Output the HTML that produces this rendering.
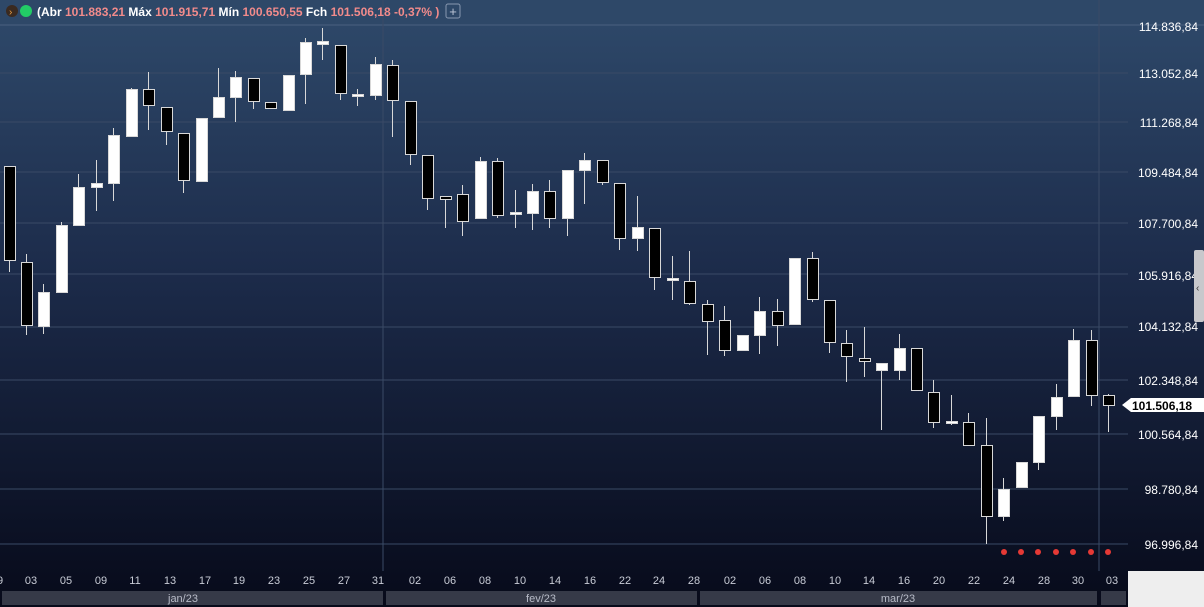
<!DOCTYPE html>
<html><head><meta charset="utf-8"><style>
html,body{margin:0;padding:0;width:1204px;height:607px;overflow:hidden;background:#0a0e20;font-family:"Liberation Sans",sans-serif;}
</style></head><body>
<svg width="1204" height="607" xmlns="http://www.w3.org/2000/svg" style="position:absolute;left:0;top:0">
<defs><linearGradient id="bg" x1="0" y1="0" x2="0" y2="1">
<stop offset="0" stop-color="#2f4a6b"/><stop offset="0.45" stop-color="#1c2b4a"/><stop offset="1" stop-color="#070a1a"/></linearGradient></defs>
<rect width="1204" height="607" fill="url(#bg)"/>
<rect x="0" y="0" width="1204" height="24" fill="#2e4868"/>
<rect x="1128" y="571" width="76" height="36" fill="#eeeeee"/>
<line x1="0" y1="25" x2="1204" y2="25" stroke="#4a6080" stroke-width="1"/>
<g stroke="#3a4a66" stroke-width="1">
<line x1="0" y1="73" x2="1128" y2="73"/><line x1="0" y1="122" x2="1128" y2="122"/><line x1="0" y1="172" x2="1128" y2="172"/><line x1="0" y1="223" x2="1128" y2="223"/><line x1="0" y1="274" x2="1128" y2="274"/><line x1="0" y1="327" x2="1128" y2="327"/><line x1="0" y1="380" x2="1128" y2="380"/><line x1="0" y1="434" x2="1128" y2="434"/><line x1="0" y1="489" x2="1128" y2="489"/><line x1="0" y1="544" x2="1128" y2="544"/>
<line x1="383" y1="0" x2="383" y2="571"/><line x1="1099" y1="0" x2="1099" y2="571"/>
</g>
<g id="c" stroke="#d8d8d8" stroke-width="1"></g>
<g font-size="12" fill="#ffffff" text-anchor="end">
<text x="1198" y="31">114.836,84</text><text x="1198" y="78">113.052,84</text><text x="1198" y="127">111.268,84</text><text x="1198" y="177">109.484,84</text><text x="1198" y="228">107.700,84</text><text x="1198" y="280">105.916,84</text><text x="1198" y="331">104.132,84</text><text x="1198" y="385">102.348,84</text><text x="1198" y="439">100.564,84</text><text x="1198" y="494">98.780,84</text><text x="1198" y="549">96.996,84</text>
</g>
<rect x="1194" y="250" width="10" height="72" rx="2" fill="#c8c8cc"/>
<text x="1196" y="291" font-size="10" fill="#333">‹</text>
<path d="M1122,405 L1131,398 L1204,398 L1204,412 L1131,412 Z" fill="#ffffff"/>
<text x="1132" y="410" font-size="12" font-weight="bold" fill="#000">101.506,18</text>
<g fill="#e53935">
<circle cx="1004" cy="552" r="3"/><circle cx="1021" cy="552" r="3"/><circle cx="1038" cy="552" r="3"/><circle cx="1056" cy="552" r="3"/><circle cx="1073" cy="552" r="3"/><circle cx="1091" cy="552" r="3"/><circle cx="1108" cy="552" r="3"/>
</g>
<g font-size="11" fill="#c8ccd6" text-anchor="middle">
<text x="0" y="584">9</text><text x="31" y="584">03</text><text x="66" y="584">05</text><text x="101" y="584">09</text><text x="135" y="584">11</text><text x="170" y="584">13</text><text x="205" y="584">17</text><text x="239" y="584">19</text><text x="274" y="584">23</text><text x="309" y="584">25</text><text x="344" y="584">27</text><text x="378" y="584">31</text><text x="415" y="584">02</text><text x="450" y="584">06</text><text x="485" y="584">08</text><text x="520" y="584">10</text><text x="555" y="584">14</text><text x="590" y="584">16</text><text x="625" y="584">22</text><text x="659" y="584">24</text><text x="694" y="584">28</text><text x="730" y="584">02</text><text x="765" y="584">06</text><text x="800" y="584">08</text><text x="835" y="584">10</text><text x="869" y="584">14</text><text x="904" y="584">16</text><text x="939" y="584">20</text><text x="974" y="584">22</text><text x="1009" y="584">24</text><text x="1044" y="584">28</text><text x="1078" y="584">30</text><text x="1112" y="584">03</text>
</g>
<g fill="#363a48">
<rect x="2" y="591" width="381" height="14"/><rect x="386" y="591" width="311" height="14"/><rect x="700" y="591" width="397" height="14"/><rect x="1101" y="591" width="25" height="14"/>
</g>
<g font-size="11" fill="#b8bcc8" text-anchor="middle">
<text x="183" y="602">jan/23</text><text x="541" y="602">fev/23</text><text x="898" y="602">mar/23</text>
</g>
<circle cx="12" cy="11" r="6" fill="#3a2a20"/><text x="9" y="15" font-size="10" fill="#f0a040">›</text>
<circle cx="26" cy="11" r="6" fill="#22cc66"/>
<text x="37" y="16" font-size="12" font-weight="bold" fill="#ffffff">(<tspan>Abr </tspan><tspan fill="#f28b8b">101.883,21 </tspan><tspan>Máx </tspan><tspan fill="#f28b8b">101.915,71 </tspan><tspan>Mín </tspan><tspan fill="#f28b8b">100.650,55 </tspan><tspan>Fch </tspan><tspan fill="#f28b8b">101.506,18 -0,37% </tspan><tspan fill="#f28b8b">)</tspan></text>
<rect x="446" y="4" width="14" height="14" rx="2" fill="none" stroke="#8898b0"/>
<text x="453" y="16" font-size="13" fill="#c0c8d8" text-anchor="middle">+</text>
</svg>
<script>
var d=[[9,166,260,166,272,0],[26,262,325,254,335,0],[43,292,326,284,334,1],[61,225,292,222,292,1],[78,187,225,174,225,1],[96,183,187,160,211,1],[113,135,183,128,201,1],[131,89,136,88,137,1],[148,89,105,72,130,0],[166,107,131,107,145,0],[183,133,180,133,193,0],[201,118,181,118,181,1],[218,97,117,68,117,1],[235,77,97,71,122,1],[253,78,101,78,109,0],[270,102,108,102,108,0],[288,75,110,75,110,1],[305,42,74,38,104,1],[322,41,44,28,60,1],[340,45,93,45,100,0],[357,94,96,89,106,1],[375,64,95,57,100,1],[392,65,100,60,137,0],[410,101,154,101,165,0],[427,155,198,155,210,0],[445,196,199,196,228,0],[462,194,221,185,236,0],[480,161,218,157,219,1],[497,161,215,158,218,0],[515,212,214,190,228,1],[532,191,213,184,230,1],[549,191,218,180,228,0],[567,170,218,170,236,1],[584,160,170,153,204,1],[602,160,182,160,185,0],[619,183,238,183,250,0],[637,227,238,196,251,1],[654,228,277,228,290,0],[672,278,280,256,300,1],[689,281,303,251,305,0],[707,304,321,300,355,0],[724,320,350,306,356,0],[742,335,350,335,350,1],[759,311,335,297,354,1],[777,311,325,299,346,0],[794,258,324,258,324,1],[812,258,299,252,302,0],[829,300,342,300,353,0],[846,343,356,330,382,0],[864,358,361,327,377,0],[881,363,370,363,430,1],[899,348,370,334,380,1],[916,348,390,348,390,0],[933,392,422,380,428,0],[951,421,423,395,425,1],[968,422,445,413,445,0],[986,445,516,418,544,0],[1003,489,516,478,521,1],[1021,462,487,462,487,1],[1038,416,462,416,470,1],[1056,397,416,384,430,1],[1073,340,396,329,396,1],[1091,340,395,330,406,0],[1108,395,405,394,432,0]];
var g=document.getElementById('c'),s='';
d.forEach(function(c){var x=c[0];s+='<line x1="'+(x+0.5)+'" y1="'+c[3]+'" x2="'+(x+0.5)+'" y2="'+c[4]+'"/>';
s+='<rect x="'+(x-5)+'.5" y="'+c[1]+'.5" width="11" height="'+Math.max(1,c[2]-c[1])+'" fill="'+(c[5]?'#ffffff':'#000000')+'"/>';});
g.innerHTML=s;
</script>
</body></html>
